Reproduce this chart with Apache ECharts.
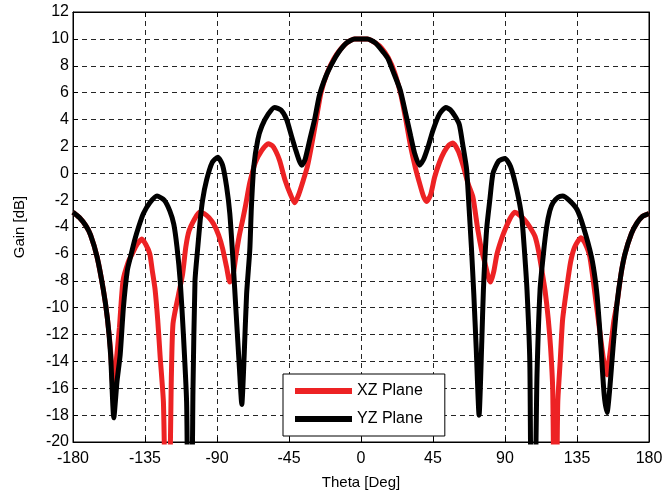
<!DOCTYPE html>
<html>
<head>
<meta charset="utf-8">
<script src="https://cdn.jsdelivr.net/npm/echarts@6/dist/echarts.min.js"></script>
<style>
  html, body { margin: 0; padding: 0; background: #fff; }
  #chart { width: 670px; height: 500px; }
</style>
</head>
<body>
<div id="chart"></div>
<script>
// XZ plane (red) - theta [deg] / gain [dB]
const xzTheta = [-180, -176, -172, -169, -165, -161, -158.5, -156.5, -155, -153, -151, -148.75, -145.5, -143, -140, -137, -134.5, -132, -130.5, -128.75, -127, -125.5, -123.5, -122, -120, -118.5, -117.5, -114, -111.5, -109.5, -107.5, -104, -101, -98, -95, -92, -89, -86.5, -84, -82, -80, -78, -76, -74, -72, -69.5, -66, -62, -58, -55, -51, -47.5, -44, -41.5, -39, -36, -33.5, -31, -28, -25, -21, -17, -13, -9, -4, 0, 4, 9, 13, 17, 21, 25, 28, 31, 34, 36.5, 39, 41, 43.5, 46, 49, 52, 55, 57.5, 61, 64, 67, 70, 73, 75.5, 77.5, 79.5, 81, 83, 85, 87.5, 90, 93, 96, 99, 102.5, 105.5, 108.75, 111, 113, 115, 117, 118.5, 119.8, 120.8, 122, 123, 124.5, 126, 128.75, 131, 133.5, 137.5, 140, 143, 147, 149.5, 151.5, 153.5, 155.5, 158, 160, 162.5, 165, 169, 172.5, 176, 180];
const xzGain = [-2.9, -3.3, -3.9, -4.6, -6.2, -8.7, -10.8, -13.2, -15.9, -14, -11.5, -8, -6.6, -6.0, -5.3, -4.9, -5.3, -6.0, -7.2, -8.6, -11, -13.7, -17, -24, -24, -15, -11.2, -9, -7.5, -5.5, -4.3, -3.4, -2.9, -3.0, -3.3, -3.8, -4.6, -5.6, -7.0, -8.1, -7.6, -6, -4.6, -3.5, -2.3, -0.7, 0.8, 1.7, 2.2, 2.0, 1.0, -0.5, -1.6, -2.2, -1.6, -0.5, 0.5, 2.0, 4.0, 6.0, 7.5, 8.5, 9.2, 9.7, 10.0, 10.0, 10.0, 9.7, 9.3, 8.6, 7.5, 5.8, 4.0, 2.0, 0.4, -0.7, -1.7, -2.1, -1.6, -0.3, 0.8, 1.6, 2.1, 2.25, 1.6, 0.5, -0.8, -1.8, -4.2, -5.8, -6.7, -7.7, -8.1, -7.3, -6.0, -5.0, -4.2, -3.4, -2.9, -3.1, -3.5, -4.0, -4.7, -5.8, -7.2, -8.7, -10.8, -13, -16, -24, -24, -17, -14, -10.9, -8.4, -6.6, -5.5, -4.8, -5.2, -6.2, -9.7, -12, -13.8, -15.0, -13.5, -11, -9.7, -7.5, -6, -4.5, -3.7, -3.2, -3.0];

// YZ plane (black)
const yzTheta = [-180, -176, -172, -169, -165, -161, -158.5, -156.5, -154.5, -152.5, -150.5, -148.5, -146, -144, -141.5, -139, -136, -132, -127.5, -123, -119.5, -117, -115, -113, -111, -109, -108, -106, -105, -103.75, -102, -100.5, -99, -96.5, -93, -89.5, -86.5, -84, -82, -80, -78, -76, -74.5, -73, -71.5, -69.5, -68.5, -67, -64.5, -62, -58, -54, -50, -46.5, -43.5, -41, -38.5, -37, -35, -32, -29, -26, -22, -18, -14, -9, -4, 0, 4, 9, 14, 17, 20, 24.5, 28, 31, 33.5, 36.5, 39, 42, 45, 49, 53, 56, 59, 61.5, 63.5, 66, 67.5, 69, 70.5, 72, 73.8, 75.5, 76.5, 78.5, 80.5, 82.5, 86, 90, 93.5, 97.5, 100.5, 102, 103.75, 105.5, 106.5, 108.5, 110, 111.9, 114, 116, 118, 120, 123, 126, 130, 135, 139, 144, 146.5, 148, 150, 152, 153.8, 155.5, 157.5, 160, 162.5, 165, 169, 172.5, 176, 180];
const yzGain = [-2.9, -3.3, -3.9, -4.6, -6.2, -8.7, -10.8, -13.5, -18.2, -15.5, -13.5, -10, -7.2, -6.2, -5, -4, -3, -2.2, -1.7, -2.0, -2.8, -3.8, -5.5, -8, -12, -17, -24, -24, -16, -8, -5.5, -3.5, -2, -0.5, 0.8, 1.2, 0.6, -1.0, -3, -6.5, -10.5, -14.5, -17.2, -13.5, -9, -5.7, -2.5, 0.5, 2.5, 3.5, 4.4, 4.9, 4.7, 4.0, 2.8, 1.8, 0.9, 0.6, 1.0, 2.5, 4.0, 5.8, 7.2, 8.2, 9.0, 9.7, 10.0, 10.0, 10.0, 9.7, 9.0, 8.5, 7.6, 6.2, 4.4, 2.8, 1.5, 0.6, 1.0, 2.0, 3.2, 4.4, 4.9, 4.7, 4.2, 3.6, 2.2, 0.3, -2.5, -5.5, -9, -13, -18, -12.5, -8.7, -4.2, -2, 0, 0.9, 1.1, 0.5, -1.3, -3.3, -5.5, -8.7, -14, -24, -24, -15, -8.7, -6, -4, -2.8, -2.2, -1.8, -1.7, -2.0, -2.7, -4, -6.2, -8, -9.7, -13, -16.5, -17.8, -16, -13, -9.7, -7.5, -6, -4.5, -3.7, -3.2, -3.0];

const xTicks = [-180, 180, 45];
const yTicks = [-20, 12, 2];

const chart = echarts.init(document.getElementById('chart'));
const font = 'Liberation Sans, Arial, sans-serif';
const dashed = { show: true, lineStyle: { color: '#000', width: 1, type: [5, 4], opacity: 0.85 } };

const option = {
  animation: false,
  textStyle: { fontFamily: font, color: '#000' },
  grid: { left: 73, right: 21, top: 12, bottom: 58, show: true, borderColor: '#000', borderWidth: 1 },
  xAxis: [{
    type: 'value', min: xTicks[0], max: xTicks[1], interval: xTicks[2],
    name: 'Theta [Deg]', nameLocation: 'middle', nameGap: 33,
    nameTextStyle: { fontSize: 15, color: '#000' },
    axisLine: { onZero: false, lineStyle: { color: '#000' } },
    axisTick: { inside: true, length: 5, lineStyle: { color: '#000' } },
    axisLabel: { fontSize: 16, color: '#000', margin: 9 },
    splitLine: dashed
  }, {
    type: 'value', position: 'top', min: xTicks[0], max: xTicks[1], interval: xTicks[2],
    axisLine: { onZero: false, lineStyle: { color: '#000' } },
    axisTick: { inside: true, length: 5, lineStyle: { color: '#000' } },
    axisLabel: { show: false }, splitLine: { show: false }
  }],
  yAxis: [{
    type: 'value', min: yTicks[0], max: yTicks[1], interval: yTicks[2],
    name: 'Gain [dB]', nameLocation: 'middle', nameGap: 46,
    nameTextStyle: { fontSize: 15, color: '#000' },
    axisLine: { show: true, onZero: false, lineStyle: { color: '#000' } },
    axisTick: { show: true, inside: true, length: 5, lineStyle: { color: '#000' } },
    axisLabel: { fontSize: 16, color: '#000', margin: 4 },
    splitLine: dashed
  }, {
    type: 'value', position: 'right', min: yTicks[0], max: yTicks[1], interval: yTicks[2],
    axisLine: { show: true, onZero: false, lineStyle: { color: '#000' } },
    axisTick: { show: true, inside: true, length: 5, lineStyle: { color: '#000' } },
    axisLabel: { show: false }, splitLine: { show: false }
  }],
  legend: {
    orient: 'vertical', left: 283, top: 374,
    backgroundColor: '#fff', borderColor: '#000', borderWidth: 1,
    padding: [9, 22, 9, 12], itemGap: 12,
    itemWidth: 57, itemHeight: 6,
    textStyle: { fontSize: 16, color: '#000', fontFamily: font },
    data: [{ name: 'XZ Plane', icon: 'rect' }, { name: 'YZ Plane', icon: 'rect' }]
  },
  series: [{
    name: 'XZ Plane', type: 'line', smooth: 0.2, showSymbol: false, symbol: 'none',
    clip: true, color: '#ed2224',
    lineStyle: { width: 5, color: '#ed2224' },
    data: xzTheta.map((t, i) => [t, xzGain[i]])
  }, {
    name: 'YZ Plane', type: 'line', smooth: 0.2, showSymbol: false, symbol: 'none',
    clip: true, color: '#000',
    lineStyle: { width: 5, color: '#000' },
    data: yzTheta.map((t, i) => [t, yzGain[i]])
  }]
};
chart.setOption(option);
</script>
</body>
</html>
